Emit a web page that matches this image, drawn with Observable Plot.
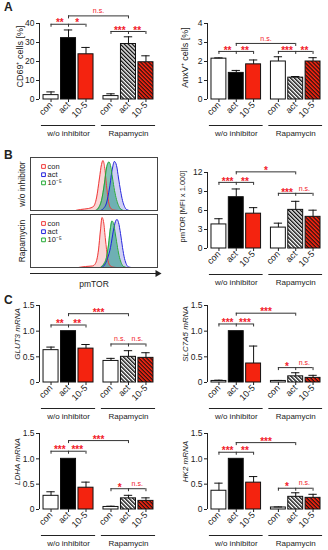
<!DOCTYPE html>
<html><head><meta charset="utf-8">
<script src="https://cdn.jsdelivr.net/npm/d3@7"></script>
<script src="https://cdn.jsdelivr.net/npm/@observablehq/plot@0.6"></script>
<style>
body{margin:0;background:#fff;}
#fig{position:relative;width:328px;height:550px;overflow:hidden;font-family:"Liberation Sans",Arial,sans-serif;color:#222;}
.letter{position:absolute;font-weight:bold;font-size:12px;line-height:12px;}
</style></head><body>
<svg width="0" height="0" style="position:absolute"><defs>
<pattern id="hatchBW" patternUnits="userSpaceOnUse" width="2.8" height="2.8" patternTransform="rotate(-45)"><rect width="2.8" height="2.8" fill="#fff"/><rect width="1.4" height="2.8" fill="#111"/></pattern>
<pattern id="hatchRB" patternUnits="userSpaceOnUse" width="2.8" height="2.8" patternTransform="rotate(-45)"><rect width="2.8" height="2.8" fill="#111"/><rect width="1.7" height="2.8" fill="#f4230f"/></pattern>
</defs></svg>
<div id="fig">
<div class="letter" style="left:4px;top:1px">A</div>
<div class="letter" style="left:4px;top:149px">B</div>
<div class="letter" style="left:4px;top:294px">C</div>
</div>
<script>
// ---------- data ----------
const groups = ["w/o inhibitor", "Rapamycin"];
const conditions = ["con", "act", "10-5"];

const cd69Mean = [2.3, 32.3, 23.8, 1.8, 29.2, 19.6];
const cd69Err = [1.7, 4.3, 3.6, 1.2, 3.8, 3.4];
const anxvMean = [2.15, 1.40, 1.85, 2.0, 1.15, 2.0];
const anxvErr = [0.04, 0.13, 0.23, 0.25, 0.06, 0.2];
const pmtorMean = [3.8, 8.1, 5.5, 3.3, 6.1, 5.0];
const pmtorErr = [0.9, 1.3, 0.95, 0.7, 1.35, 1.05];
const glut3Mean = [0.63, 1.0, 0.66, 0.42, 0.5, 0.48];
const glut3Err = [0.06, 0, 0.08, 0.05, 0.12, 0.1];
const slc7a5Mean = [0.03, 1.0, 0.37, 0.03, 0.12, 0.09];
const slc7a5Err = [0.015, 0, 0.34, 0.01, 0.07, 0.05];
const ldhaMean = [0.27, 1.0, 0.43, 0.05, 0.22, 0.17];
const ldhaErr = [0.08, 0, 0.11, 0.015, 0.06, 0.06];
const hk2Mean = [0.37, 1.0, 0.53, 0.04, 0.25, 0.23];
const hk2Err = [0.15, 0, 0.12, 0.01, 0.08, 0.07];

// significance: [w/o (con-act, act-10-5)], [Rapa (con-act, act-10-5)], cross (act vs act)
const cd69Sig = {wo: ["**", "*"], rapa: ["***", "**"], cross: "n.s."};
const anxvSig = {wo: ["**", "**"], rapa: ["***", "**"], cross: "n.s."};
const pmtorSig = {wo: ["***", "**"], rapa: ["***", "n.s."], cross: "*"};
const glut3Sig = {wo: ["**", "**"], rapa: ["n.s.", "n.s."], cross: "***"};
const slc7a5Sig = {wo: ["***", "***"], rapa: ["*", "n.s."], cross: "***"};
const ldhaSig = {wo: ["***", "***"], rapa: ["*", "n.s."], cross: "***"};
const hk2Sig = {wo: ["***", "**"], rapa: ["*", "n.s."], cross: "***"};

// bracket heights (in axis units): [w/o, Rapa, cross]
const cd69Levels = [39.6, 35.8, 44];
const anxvLevels = [2.53, 2.53, 2.95];
const pmtorLevels = [10.44, 8.71, 12.1];
const glut3Levels = [1.12, 0.75, 1.34];
const slc7a5Levels = [1.14, 0.29, 1.35];
const ldhaLevels = [1.15, 0.41, 1.36];
const hk2Levels = [1.13, 0.42, 1.32];

// flow histograms (pmTOR channel, % of max)
const histConds = ["w/o inhibitor", "Rapamycin"];
const histSeries = ["con", "act", "10⁻⁵"];
const woConX = [90, 100, 116, 126, 132, 138, 142, 145, 148, 152, 156, 160, 166, 176];
const woConY = [0, 2, 4, 8, 25, 65, 92, 100, 88, 50, 18, 5, 1, 0];
const woActX = [140, 146, 152, 158, 164, 168, 172, 176, 180, 184, 188, 192, 198];
const woActY = [0, 4, 15, 45, 85, 98, 90, 65, 40, 20, 8, 2, 0];
const woLowX = [130, 136, 142, 148, 152, 157, 160, 164, 168, 172, 176, 180, 186];
const woLowY = [0, 5, 20, 55, 85, 97, 90, 65, 40, 22, 10, 3, 0];
const rpConX = [96, 110, 124, 130, 136, 140, 143, 146, 150, 154, 158, 164, 172];
const rpConY = [0, 2, 3, 8, 35, 75, 100, 92, 55, 20, 5, 1, 0];
const rpActX = [142, 148, 154, 160, 166, 170, 173, 176, 180, 184, 188, 192, 196, 202];
const rpActY = [0, 5, 18, 40, 75, 92, 96, 90, 68, 40, 18, 6, 1, 0];
const rpLowX = [140, 146, 152, 156, 160, 163, 166, 170, 174, 178, 182, 186, 192];
const rpLowY = [0, 6, 20, 45, 80, 93, 88, 65, 40, 20, 8, 2, 0];

// ---------- styling / layout ----------
const RED = "#f4230f";
const STAR = "#f2202a";
const FONT = "font-family:'Liberation Sans',Arial,sans-serif;font-size:9px;overflow:visible;color:#222;background:none;";
const GROUP_STEP = 3.43, BAR_HALF = 0.43, CAP_HALF = 0.24, X_PAD = 0.66;
const xDomain = [-X_PAD, GROUP_STEP + 2 + X_PAD];
const pos = (g, c) => g * GROUP_STEP + c;
const barFills = [["white", "black", RED], ["white", "url(#hatchBW)", "url(#hatchRB)"]];
const tickPositions = [], tickLabels = [];
groups.forEach((_, g) => conditions.forEach((c, ci) => { tickPositions.push(pos(g, ci)); tickLabels.push(c); }));
const tickLabel = d => tickLabels[tickPositions.findIndex(p => Math.abs(p - d) < 1e-6)];

const fig = document.getElementById("fig");
function place(el, left, top) {
  el.style.position = "absolute";
  el.style.left = left + "px";
  el.style.top = top + "px";
  fig.appendChild(el);
}

function barPanel(cfg) {
  const {mean, err, sig, levels, yMax, yTicks, yFmt, title, titleSize, titleItalic, titleOffset, titleDy,
         left, top, marginLeft, plotWidth, marginTop, height} = cfg;
  const marginBottom = 41, marginRight = 4;
  const rows = [];
  groups.forEach((grp, g) => conditions.forEach((cond, c) => {
    const i = g * 3 + c;
    rows.push({x: pos(g, c), mean: mean[i], err: err[i], fill: barFills[g][c]});
  }));
  const plotH = height - marginTop - marginBottom;
  const drop = 3 * yMax / plotH;
  const hSeg = [], vSeg = [], labels = [];
  [sig.wo, sig.rapa].forEach((labs, g) => {
    const lv = levels[g];
    const x1 = pos(g, 0), xm = pos(g, 1), x2 = pos(g, 2);
    hSeg.push({x1, x2, y: lv});
    [x1, xm, x2].forEach(x => vSeg.push({x, y1: lv - drop, y2: lv}));
    labels.push({x: (x1 + xm) / 2, y: lv, text: labs[0]});
    labels.push({x: (xm + x2) / 2, y: lv, text: labs[1]});
  });
  {
    const lv = levels[2], x1 = pos(0, 1), x2 = pos(1, 1);
    hSeg.push({x1, x2, y: lv});
    [x1, x2].forEach(x => vSeg.push({x, y1: lv - drop, y2: lv}));
    labels.push({x: (x1 + x2) / 2, y: lv, text: sig.cross});
  }
  const stars = labels.filter(d => d.text !== "n.s.");
  const ns = labels.filter(d => d.text === "n.s.");
  const groupIdx = [0, 1];
  const svg = Plot.plot({
    width: marginLeft + plotWidth + marginRight,
    height, marginLeft, marginRight, marginTop, marginBottom,
    style: FONT,
    x: {domain: xDomain, axis: null},
    y: {domain: [0, yMax], axis: null},
    color: {type: "identity"},
    marks: [
      Plot.rect(rows, {x1: d => d.x - BAR_HALF, x2: d => d.x + BAR_HALF, y1: 0, y2: "mean", fill: d => d.fill, stroke: "#111", strokeWidth: 1}),
      Plot.ruleX(rows.filter(d => d.err > 0), {x: "x", y1: "mean", y2: d => d.mean + d.err, stroke: "#111", strokeWidth: 1}),
      Plot.ruleY(rows.filter(d => d.err > 0), {x1: d => d.x - CAP_HALF, x2: d => d.x + CAP_HALF, y: d => d.mean + d.err, stroke: "#111", strokeWidth: 1}),
      Plot.ruleX([xDomain[0]], {y1: 0, y2: yMax, stroke: "#222", strokeWidth: 1}),
      Plot.axisY({ticks: yTicks, tickFormat: yFmt, tickSize: 3, tickPadding: 2, label: null, fontSize: 8.5, stroke: "#222"}),
      Plot.axisX({ticks: tickPositions, tickFormat: tickLabel, tickRotate: -45, tickSize: 3, tickPadding: 1, label: null, fontSize: 9}),
      Plot.ruleY(groupIdx, {x1: g => pos(g, 0) - 0.55, x2: g => pos(g, 2) + 0.55, y: 0, dy: 26, stroke: "#222", strokeWidth: 1}),
      Plot.text(groupIdx, {x: g => pos(g, 1), y: 0, dy: 34, text: g => groups[g], fontSize: 8, lineAnchor: "middle"}),
      Plot.ruleY(hSeg, {x1: "x1", x2: "x2", y: "y", stroke: "#333", strokeWidth: 1}),
      Plot.ruleX(vSeg, {x: "x", y1: "y1", y2: "y2", stroke: "#333", strokeWidth: 1}),
      Plot.text(stars, {x: "x", y: "y", text: "text", fill: STAR, fontSize: 10, fontWeight: "bold", lineAnchor: "middle", dy: -1}),
      Plot.text(ns, {x: "x", y: "y", text: "text", fill: STAR, fontSize: 7, lineAnchor: "middle", dy: -5}),
      Plot.text([title], {frameAnchor: "left", rotate: -90, dx: -titleOffset, dy: titleDy, text: d => d, fontSize: titleSize, fontStyle: titleItalic ? "italic" : "normal", textAnchor: "middle", lineAnchor: "middle"})
    ]
  });
  place(svg, left, top);
}

const intFmt = d => String(d);
const decFmt = d => d === 0 ? "0" : d.toFixed(1);
const L = {left: 0, marginLeft: 39, plotWidth: 118};
const R = {left: 164, marginLeft: 43, plotWidth: 117};

barPanel({...L, top: 0, marginTop: 23, height: 140, mean: cd69Mean, err: cd69Err, sig: cd69Sig, levels: cd69Levels,
  yMax: 40, yTicks: [0, 10, 20, 30, 40], yFmt: intFmt, title: "CD69⁺ cells [%]", titleSize: 9, titleOffset: 19, titleDy: -5});
barPanel({...R, top: 0, marginTop: 23, height: 140, mean: anxvMean, err: anxvErr, sig: anxvSig, levels: anxvLevels,
  yMax: 4, yTicks: [0, 1, 2, 3, 4], yFmt: intFmt, title: "AnxV⁺ cells [%]", titleSize: 9, titleOffset: 22, titleDy: -4});
barPanel({...R, top: 150, marginTop: 22, height: 139, mean: pmtorMean, err: pmtorErr, sig: pmtorSig, levels: pmtorLevels,
  yMax: 12, yTicks: [0, 3, 6, 9, 12], yFmt: intFmt, title: "pmTOR [MFI x 1.000]", titleSize: 7.5, titleOffset: 25, titleDy: -4});
barPanel({...L, top: 282, marginTop: 23, height: 141, mean: glut3Mean, err: glut3Err, sig: glut3Sig, levels: glut3Levels,
  yMax: 1.5, yTicks: [0, 0.5, 1.0, 1.5], yFmt: decFmt, title: "GLUT3 mRNA", titleSize: 8, titleItalic: true, titleOffset: 22, titleDy: -10});
barPanel({...R, top: 282, marginTop: 23, height: 141, mean: slc7a5Mean, err: slc7a5Err, sig: slc7a5Sig, levels: slc7a5Levels,
  yMax: 1.5, yTicks: [0, 0.5, 1.0, 1.5], yFmt: decFmt, title: "SLC7A5 mRNA", titleSize: 8, titleItalic: true, titleOffset: 22, titleDy: -10});
barPanel({...L, top: 410, marginTop: 23, height: 140, mean: ldhaMean, err: ldhaErr, sig: ldhaSig, levels: ldhaLevels,
  yMax: 1.5, yTicks: [0, 0.5, 1.0, 1.5], yFmt: decFmt, title: "LDHA mRNA", titleSize: 8, titleItalic: true, titleOffset: 22, titleDy: -10});
barPanel({...R, top: 410, marginTop: 23, height: 140, mean: hk2Mean, err: hk2Err, sig: hk2Sig, levels: hk2Levels,
  yMax: 1.5, yTicks: [0, 0.5, 1.0, 1.5], yFmt: decFmt, title: "HK2 mRNA", titleSize: 8, titleItalic: true, titleOffset: 22, titleDy: -10});

// ---------- histogram panel ----------
const histStroke = ["#f03a3a", "#2222dd", "#22aa33"];
const histFill = ["rgba(240,120,120,0.3)", "rgba(110,110,220,0.32)", "rgba(30,150,125,0.55)"];
const curves = [
  [histConds[0], 0, woConX, woConY], [histConds[0], 1, woActX, woActY], [histConds[0], 2, woLowX, woLowY],
  [histConds[1], 0, rpConX, rpConY], [histConds[1], 1, rpActX, rpActY], [histConds[1], 2, rpLowX, rpLowY]
];
const histRows = [];
curves.forEach(([cond, s, xs, ys]) => xs.forEach((x, i) => histRows.push({cond, s, key: cond + s, ch: x, count: ys[i]})));

const legendMarks = [];
histSeries.forEach((lab, i) => {
  legendMarks.push(Plot.dot(histConds, {fy: d => d, frameAnchor: "top-left", dx: 13, dy: 9 + i * 8.2, symbol: "square", r: 2.1, stroke: histStroke[i], fill: "white", strokeWidth: 1}));
  legendMarks.push(Plot.text(histConds, {fy: d => d, frameAnchor: "top-left", dx: 17, dy: 9 + i * 8.2, text: () => lab, textAnchor: "start", lineAnchor: "middle", fontSize: 7.5}));
});

const hist = Plot.plot({
  width: 162, height: 140, marginLeft: 30, marginRight: 5, marginTop: 7, marginBottom: 22,
  style: FONT,
  x: {domain: [0, 254], axis: null},
  y: {domain: [0, 106], axis: null},
  fy: {domain: histConds, axis: null, paddingInner: 0.07, paddingOuter: 0},
  color: {type: "identity"},
  marks: [
    Plot.area(histRows, {x1: "ch", y1: 0, y2: "count", z: "key", fy: "cond", fill: d => histFill[d.s], curve: "monotone-x"}),
    Plot.line(histRows, {x: "ch", y: "count", z: "key", fy: "cond", stroke: d => histStroke[d.s], strokeWidth: 1, curve: "monotone-x"}),
    Plot.frame({stroke: "#444", strokeWidth: 1}),
    ...legendMarks,
    Plot.text(histConds, {fy: d => d, frameAnchor: "left", rotate: -90, dx: -8, text: d => d, fontSize: 8.5, textAnchor: "middle", lineAnchor: "middle"}),
    Plot.ruleY([histConds[1]], {fy: d => d, y: 0, dy: 6, stroke: "#222", strokeWidth: 1}),
    Plot.dot([histConds[1]], {fy: d => d, frameAnchor: "bottom-right", dy: 6, symbol: "triangle", rotate: 90, r: 2.6, fill: "#222"}),
    Plot.text([histConds[1]], {fy: d => d, frameAnchor: "bottom", dy: 17, text: () => "pmTOR", fontSize: 8.5, lineAnchor: "middle"})
  ]
});
place(hist, 0, 150);
</script>
</body></html>
